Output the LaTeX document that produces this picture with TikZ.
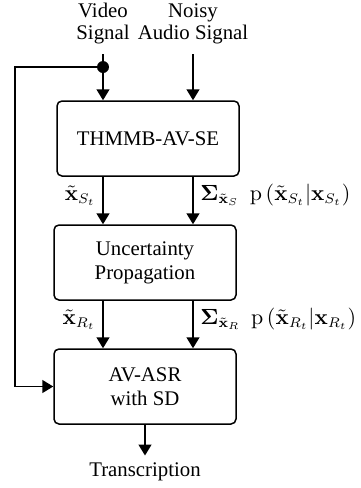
\documentclass[tikz,border=0pt]{standalone}
\usepackage{amsmath}
\usepackage{amssymb}
\usepackage[no-math]{fontspec}
\setmainfont{Liberation Serif}
\usetikzlibrary{arrows.meta}

\begin{document}
\begin{tikzpicture}[
  x=0.5pt, y=-0.5pt,
  block/.style={rectangle, draw, line width=0.75pt, minimum width=91pt, minimum height=37.5pt, align=center, rounded corners=2.5pt, font=\fontsize{10.4}{12}\selectfont},
  signal/.style={align=center, inner sep=5pt, font=\fontsize{10.4}{11}\selectfont},
  label/.style={font=\fontsize{10.7}{12}\selectfont},
  line/.style={draw, line width=0.75pt, -{Triangle[length=5.5pt,width=6.5pt]}},
  wire/.style={draw, line width=0.75pt},
  dot/.style={circle, fill, inner sep=0pt, minimum size=6pt}
]
\useasboundingbox (0,0) rectangle (360,488);

\node [signal] (video) at (103,23.5) {Video\\Signal};
\node [signal] (audio) at (193,23.5) {Noisy\\Audio Signal};
\node [dot] (split) at (103,67) {};
\coordinate (loop) at (15,67);
\node [block] (thmmb) at (148,138.5) {THMMB-AV-SE};
\node [block] (uncert) at (145,262.5) {Uncertainty\\Propagation};
\node [block] (asr) at (145,386.5) {AV-ASR\\with SD};
\node [signal, inner sep=3.5pt] (trans) at (145,472) {Transcription};

\path [wire] (video) -- (split);
\path [line] (split) -- (split |- thmmb.north);
\path [line] (audio) -- (audio |- thmmb.north);
\path [line] (thmmb.south -| split) -- node[label, anchor=base east] {$\tilde{\mathbf{x}}_{S_t}$} (uncert.north -| split);
\path [line] (thmmb.south -| audio) -- node[label, anchor=base west] {$\boldsymbol{\Sigma}_{\tilde{\mathbf{x}}_S}\ \ \mathrm{p}\left(\tilde{\mathbf{x}}_{S_t}|\mathbf{x}_{S_t}\right)$} (uncert.north -| audio);
\path [line] (uncert.south -| split) -- node[label, anchor=base east] {$\tilde{\mathbf{x}}_{R_t}$} (asr.north -| split);
\path [line] (uncert.south -| audio) -- node[label, anchor=base west] {$\boldsymbol{\Sigma}_{\tilde{\mathbf{x}}_R}\ \ \mathrm{p}\left(\tilde{\mathbf{x}}_{R_t}|\mathbf{x}_{R_t}\right)$} (asr.north -| audio);
\path [line] (split) -- (loop) |- (asr.west);
\path [line] (asr) -- (trans);
\end{tikzpicture}
\end{document}
